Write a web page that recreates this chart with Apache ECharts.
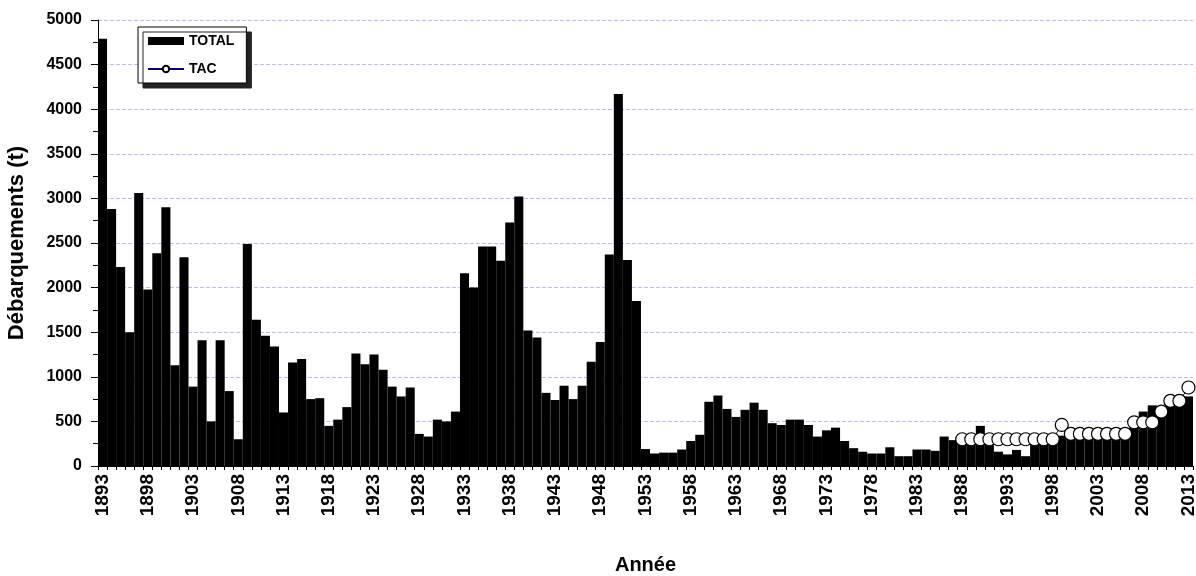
<!DOCTYPE html>
<html>
<head>
<meta charset="utf-8">
<script src="https://cdn.jsdelivr.net/npm/echarts@6/dist/echarts.min.js"></script>
<style>
  html, body { margin: 0; padding: 0; background: #fff; }
  #chart { width: 1196px; height: 576px; }
</style>
</head>
<body>
<div id="chart"></div>
<script>
// years 1893 .. 2013
const firstYear = 1893
const lastYear = 2013
const years = []
for (let y = firstYear; y <= lastYear; y++) years.push(String(y))

// landings (t), one per year
const total = [
  4790, 2880, 2230, 1500, 3060, 1980, 2385, 2900, 1130, 2340, // 1893-1902
  890, 1410, 500, 1410, 840, 300, 2490, 1640, 1460, 1340,     // 1903-1912
  600, 1160, 1200, 750, 760, 450, 520, 660, 1260, 1140,       // 1913-1922
  1250, 1080, 890, 780, 880, 360, 330, 520, 500, 610,         // 1923-1932
  2160, 2000, 2460, 2460, 2300, 2730, 3020, 1520, 1440, 820,  // 1933-1942
  740, 900, 750, 900, 1170, 1390, 2370, 4170, 2310, 1850,     // 1943-1952
  190, 140, 150, 150, 185, 280, 350, 720, 790, 640,           // 1953-1962
  550, 630, 710, 630, 480, 460, 520, 520, 460, 330,           // 1963-1972
  400, 430, 280, 200, 160, 140, 140, 210, 110, 110,           // 1973-1982
  185, 185, 170, 330, 290, 280, 280, 450, 280, 160,           // 1983-1992
  130, 180, 110, 270, 280, 300, 340, 330, 330, 330,           // 1993-2002
  340, 340, 340, 340, 440, 610, 680, 650, 700, 740,           // 2003-2012
  780                                                         // 2013
]

// TAC from 1988 to 2013
const tacStartYear = 1988
const tac = [
  300, 300, 300, 300, 300, 300, 300, 300, 300, 300, 300, // 1988-1998
  460,                                                   // 1999
  360, 360, 360, 360, 360, 360, 360,                     // 2000-2006
  490, 490, 490,                                         // 2007-2009
  610, 730, 730, 880                                     // 2010-2013
]

const yTicks = { min: 0, max: 5000, interval: 500 }

const tacSeries = years.map((y) => {
  const i = Number(y) - tacStartYear
  return i >= 0 && i < tac.length ? tac[i] : null
})

const font = 'Arial, "Liberation Sans", sans-serif'

const chart = echarts.init(document.getElementById('chart'))

const option = {
  backgroundColor: '#fff',
  animation: false,
  grid: { left: 98, right: 3, top: 20, bottom: 110, outerBoundsMode: 'none', containLabel: false },
  legend: {
    orient: 'vertical',
    left: 138,
    top: 27,
    padding: [7, 12, 7, 9],
    itemGap: 14,
    itemWidth: 36,
    itemHeight: 8,
    backgroundColor: '#fff',
    borderColor: '#000',
    borderWidth: 1,
    borderRadius: 0,
    shadowColor: '#222',
    shadowBlur: 0,
    shadowOffsetX: 5,
    shadowOffsetY: 5,
    textStyle: { fontFamily: font, fontWeight: 'bold', fontSize: 14, color: '#000' },
    data: [
      { name: 'TOTAL', icon: 'rect' },
      { name: 'TAC' }
    ]
  },
  xAxis: {
    type: 'category',
    data: years,
    boundaryGap: true,
    name: 'Année',
    nameLocation: 'middle',
    nameGap: 89,
    nameTextStyle: { fontFamily: font, fontWeight: 'bold', fontSize: 20, color: '#000' },
    axisLine: { lineStyle: { color: '#000', width: 1 } },
    axisTick: { show: true, interval: 0, length: 4, lineStyle: { color: '#000' } },
    axisLabel: {
      interval: 4,
      rotate: 90,
      margin: 8,
      fontFamily: font,
      fontWeight: 'bold',
      fontSize: 19,
      color: '#000'
    },
    splitLine: { show: false }
  },
  yAxis: {
    type: 'value',
    min: yTicks.min,
    max: yTicks.max,
    interval: yTicks.interval,
    name: 'Débarquements (t)',
    nameLocation: 'middle',
    nameGap: 70,
    nameTextStyle: { fontFamily: font, fontWeight: 'bold', fontSize: 22, color: '#000' },
    axisLine: { show: true, lineStyle: { color: '#000', width: 1 } },
    axisTick: { show: true, length: 7, lineStyle: { color: '#000' } },
    minorTick: { show: true, splitNumber: 2, length: 5, lineStyle: { color: '#000' } },
    axisLabel: {
      margin: 16,
      fontFamily: font,
      fontWeight: 'bold',
      fontSize: 16,
      color: '#000',
      formatter: (v) => String(v)
    },
    splitLine: {
      show: true,
      lineStyle: { color: '#b8b8ff', width: 1, type: [4, 2] }
    }
  },
  series: [
    {
      name: 'TOTAL',
      type: 'bar',
      data: total,
      barCategoryGap: '0%',
      itemStyle: { color: '#000' },
      z: 2
    },
    {
      name: 'TAC',
      type: 'line',
      data: tacSeries,
      symbol: 'circle',
      symbolSize: 13,
      showAllSymbol: true,
      lineStyle: { color: '#000080', width: 1 },
      itemStyle: { color: '#fff', borderColor: '#000', borderWidth: 1.2 },
      z: 3
    }
  ]
}

chart.setOption(option)
</script>
</body>
</html>
